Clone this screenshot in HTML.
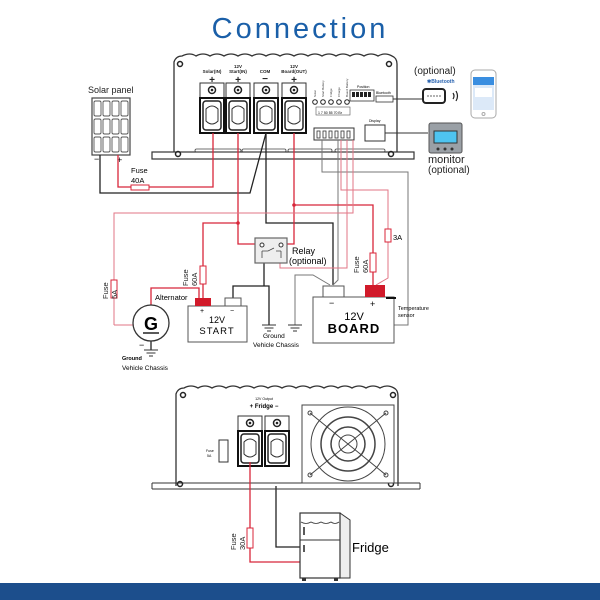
<!DOCTYPE html>
<html><head><meta charset="utf-8"><style>
body{margin:0;background:#fff}
svg{display:block}
text{font-family:"Liberation Sans",Arial,sans-serif}
</style></head><body>
<svg width="600" height="600" viewBox="0 0 600 600" xmlns="http://www.w3.org/2000/svg">
<defs>
<g id="term">
<rect x="-12" y="0" width="24" height="15" fill="#fff" stroke="#333" stroke-width="1"/>
<circle cx="0" cy="7" r="3.5" fill="#fff" stroke="#222" stroke-width="1.5"/>
<circle cx="0" cy="7" r="1.3" fill="#222"/>
<rect x="-12" y="15" width="24" height="35" fill="#fff" stroke="#111" stroke-width="2"/>
<rect x="-9" y="18" width="18" height="29" rx="3" fill="#fff" stroke="#222" stroke-width="1.5"/>
<path d="M-6,26 Q0,20 6,26 L6,38 Q0,44 -6,38 Z" fill="none" stroke="#333" stroke-width="1"/>
</g>
<g id="gnd"><line x1="-7" y1="0" x2="7" y2="0" stroke="#333"/><line x1="-4.5" y1="3" x2="4.5" y2="3" stroke="#333"/><line x1="-2" y1="6" x2="2" y2="6" stroke="#333"/></g>
</defs>
<text x="300" y="38" font-size="29" fill="#1a5fa8" text-anchor="middle" letter-spacing="3">Connection</text>

<!-- top device -->
<path d="M174,155 L174,62 Q176,56 182,56 Q190,52 196,56 Q203,52 210,56 Q217,52 224,56 Q231,52 238,56 Q245,52 252,56 Q259,52 266,56 Q273,52 280,56 Q287,52 294,56 Q301,52 308,56 Q315,52 322,56 Q329,52 336,56 Q343,52 350,56 Q357,52 364,56 Q371,52 378,56 Q385,52 392,56 Q397,58 397,64 L397,155" fill="#fff" stroke="#333" stroke-width="1.3"/>
<rect x="152" y="152" width="262" height="7" fill="#fff" stroke="#333" stroke-width="1.2"/>
<circle cx="180" cy="64" r="2.5" fill="none" stroke="#222" stroke-width="1.5"/>
<circle cx="389" cy="64" r="2.5" fill="none" stroke="#222" stroke-width="1.5"/>
<circle cx="178" cy="154" r="2.5" fill="none" stroke="#222" stroke-width="1.5"/>
<circle cx="391" cy="154" r="2.5" fill="none" stroke="#222" stroke-width="1.5"/>
<rect x="195" y="149" width="46" height="3" rx="1.5" fill="none" stroke="#444" stroke-width="0.8"/>
<rect x="242" y="149" width="44" height="3" rx="1.5" fill="none" stroke="#444" stroke-width="0.8"/>
<rect x="288" y="149" width="44" height="3" rx="1.5" fill="none" stroke="#444" stroke-width="0.8"/>
<rect x="335" y="149" width="50" height="3" rx="1.5" fill="none" stroke="#444" stroke-width="0.8"/>
<g font-size="4.5" font-weight="bold" text-anchor="middle" fill="#222">
<text x="212" y="73">Solar(IN)</text>
<text x="238" y="68">12V</text><text x="238" y="73">Start(IN)</text>
<text x="265" y="73">COM</text>
<text x="294" y="68">12V</text><text x="294" y="73">Board(OUT)</text>
</g>
<g font-size="10" font-weight="bold" text-anchor="middle" fill="#222">
<text x="212" y="83">+</text><text x="238" y="83">+</text><text x="265" y="82">−</text><text x="294" y="83">+</text>
</g>
<use href="#term" x="212" y="83"/><use href="#term" x="238" y="83"/><use href="#term" x="266" y="83"/><use href="#term" x="294" y="83"/>
<g fill="#fff" stroke="#222" stroke-width="1">
<circle cx="315" cy="102" r="2.3"/><circle cx="323" cy="102" r="2.3"/><circle cx="331" cy="102" r="2.3"/><circle cx="339" cy="102" r="2.3"/><circle cx="347" cy="102" r="2.3"/>
</g>
<g font-size="3" fill="#333"><text transform="translate(316,97) rotate(-90)">Solar</text><text transform="translate(324,97) rotate(-90)">Start Battery</text><text transform="translate(332,97) rotate(-90)">Fridge</text><text transform="translate(340,97) rotate(-90)">Charge</text><text transform="translate(348,97) rotate(-90)">Board Battery</text></g>
<rect x="316" y="107" width="34" height="8" fill="#fff" stroke="#555" stroke-width="0.6"/>
<text x="318" y="114" font-size="3.5">1  7  50  55 70 Br</text>
<text x="357" y="88" font-size="3.5">Position</text>
<rect x="350" y="90" width="24" height="11" fill="#fff" stroke="#333" stroke-width="0.8"/>
<g fill="#222"><rect x="352" y="92" width="3" height="5"/><rect x="356" y="92" width="3" height="5"/><rect x="360" y="92" width="3" height="5"/><rect x="364" y="92" width="3" height="5"/><rect x="368" y="92" width="3" height="5"/></g>
<text x="376" y="94" font-size="3.5">Bluetooth</text>
<rect x="376" y="96" width="17" height="6" fill="#fff" stroke="#333" stroke-width="0.8"/>
<rect x="314" y="128" width="40" height="12" fill="#fff" stroke="#333" stroke-width="1"/>
<g fill="#fff" stroke="#333" stroke-width="0.8"><rect x="317" y="131" width="3" height="7"/><rect x="323" y="131" width="3" height="7"/><rect x="329" y="131" width="3" height="7"/><rect x="335" y="131" width="3" height="7"/><rect x="341" y="131" width="3" height="7"/><rect x="347" y="131" width="3" height="7"/></g>
<text x="369" y="122" font-size="3.5">Display</text>
<rect x="365" y="125" width="20" height="16" fill="#fff" stroke="#333" stroke-width="1"/>
<line x1="385" y1="133" x2="428" y2="133" stroke="#333" stroke-width="1"/>
<line x1="393" y1="99" x2="422" y2="99" stroke="#333" stroke-width="1"/>

<!-- bluetooth / phone / monitor -->
<text x="414" y="74" font-size="10" fill="#222">(optional)</text>
<text x="427" y="83" font-size="5" font-weight="bold" fill="#2a64b0">✱Bluetooth</text>
<rect x="423" y="89" width="22" height="14" rx="3" fill="#fff" stroke="#222" stroke-width="2"/>
<line x1="427" y1="96" x2="441" y2="96" stroke="#333" stroke-width="0.8" stroke-dasharray="2,1"/>
<path d="M453,93 q2,3 0,6 M456,91 q3,5 0,10" fill="none" stroke="#222" stroke-width="1.2"/>
<rect x="471" y="70" width="25" height="48" rx="4" fill="#fff" stroke="#aaa" stroke-width="1"/>
<rect x="473" y="77" width="21" height="33" fill="#dce9f8"/>
<rect x="473" y="77" width="21" height="8" fill="#3a8ee0"/>
<rect x="475" y="88" width="17" height="9" fill="#fff"/>
<circle cx="483.5" cy="114" r="1.5" fill="none" stroke="#aaa"/>
<rect x="429" y="123" width="33" height="30" rx="2" fill="#9aa0a6" stroke="#555" stroke-width="1"/>
<rect x="434" y="131" width="23" height="12" fill="#4ec4f0" stroke="#333" stroke-width="1"/>
<g fill="#333"><circle cx="438" cy="149" r="1.5"/><circle cx="445" cy="149" r="1.5"/><circle cx="452" cy="149" r="1.5"/></g>
<text x="428" y="163" font-size="11" fill="#222">monitor</text>
<text x="428" y="173" font-size="10" fill="#222">(optional)</text>

<!-- solar panel -->
<text x="88" y="93" font-size="9" fill="#222">Solar  panel</text>
<rect x="92" y="98" width="38" height="57" fill="#fff" stroke="#444" stroke-width="1.2"/>
<g fill="#fff" stroke="#555" stroke-width="0.9">
<rect x="94" y="101" width="7" height="15" rx="1.5"/><rect x="103" y="101" width="7" height="15" rx="1.5"/><rect x="112" y="101" width="7" height="15" rx="1.5"/><rect x="121" y="101" width="7" height="15" rx="1.5"/>
<rect x="94" y="119" width="7" height="15" rx="1.5"/><rect x="103" y="119" width="7" height="15" rx="1.5"/><rect x="112" y="119" width="7" height="15" rx="1.5"/><rect x="121" y="119" width="7" height="15" rx="1.5"/>
<rect x="94" y="137" width="7" height="15" rx="1.5"/><rect x="103" y="137" width="7" height="15" rx="1.5"/><rect x="112" y="137" width="7" height="15" rx="1.5"/><rect x="121" y="137" width="7" height="15" rx="1.5"/>
</g>
<text x="94" y="162" font-size="9">−</text><text x="117" y="163" font-size="9">+</text>
<text x="131" y="173" font-size="7.5">Fuse</text><text x="131" y="183" font-size="7.5">40A</text>

<!-- wires black -->
<g fill="none" stroke="#222" stroke-width="1.3">
<polyline points="100,155 100,193 250,193 266,133"/>
<polyline points="266,133 266,223 333,223 333,285"/>
<polyline points="151,341 151,350"/>
<polyline points="233,298 233,286 269,286 269,325"/>
<polyline points="264,263 264,286"/>
<polyline points="276,462 276,547 300,547"/>
</g>
<!-- grey wires -->
<g fill="none" stroke="#777" stroke-width="1">
<polyline points="322,140 322,172 408,172 408,325 393,325"/>
<polyline points="338,140 338,280 333,285"/>
<polyline points="295,325 295,275 313,275 330,285"/>
</g>
<!-- red wires -->
<g fill="none" stroke="#d8263a" stroke-width="1.3">
<polyline points="118,155 118,187 213,187 213,133"/>
<polyline points="238,133 238,244 262,244"/>
<polyline points="238,223 203,223 203,298"/>
<polyline points="294,133 294,244 283,244"/>
<polyline points="294,205 373,205 373,285"/>
<polyline points="151,305 151,288 199,288 199,298"/>
</g>
<g fill="none" stroke="#e27585" stroke-width="1">
<polyline points="114,325 133,325"/>
<polyline points="114,325 114,213 353,213 353,140"/>
<polyline points="341,140 341,190 388,190 388,278 376,285"/>
<polyline points="347,140 347,268 280,268 280,263"/>
</g>
<circle cx="238" cy="223" r="1.8" fill="#d8263a"/><circle cx="294" cy="205" r="1.8" fill="#d8263a"/>
<!-- fuses -->
<g fill="#fff" stroke="#d8263a" stroke-width="1">
<rect x="131" y="185" width="18" height="5"/>
<rect x="111" y="280" width="6" height="18"/>
<rect x="200" y="266" width="6" height="18"/>
<rect x="370" y="253" width="6" height="19"/>
<rect x="385" y="229" width="6" height="13"/>
</g>
<g font-size="7.5" fill="#222">
<text transform="translate(108,299) rotate(-90)">Fuse</text><text transform="translate(117,299) rotate(-90)">5A</text>
<text transform="translate(188,286) rotate(-90)">Fuse</text><text transform="translate(197,286) rotate(-90)">60A</text>
<text transform="translate(359,273) rotate(-90)">Fuse</text><text transform="translate(368,273) rotate(-90)">60A</text>
<text transform="translate(236,550) rotate(-90)">Fuse</text><text transform="translate(245,550) rotate(-90)">30A</text>
</g>
<text x="393" y="240" font-size="7.5">3A</text>

<!-- relay -->
<rect x="255" y="238" width="32" height="25" fill="#eee" stroke="#666" stroke-width="1.2"/>
<circle cx="262" cy="245" r="2" fill="#fff" stroke="#333"/><circle cx="281" cy="245" r="2" fill="#fff" stroke="#333"/>
<path d="M262,251 L268,251 L274,248 M276,251 L281,251 M262,251 L262,258 M281,251 L281,258" fill="none" stroke="#444" stroke-width="0.8"/>
<text x="292" y="254" font-size="9">Relay</text><text x="289" y="264" font-size="9">(optional)</text>

<!-- grounds -->
<use href="#gnd" x="269" y="325"/><use href="#gnd" x="295" y="325"/><use href="#gnd" x="151" y="350"/>
<text x="263" y="338" font-size="6.5">Ground</text><text x="253" y="347" font-size="6.5">Vehicle  Chassis</text>
<text x="122" y="360" font-size="5.5" font-weight="bold">Ground</text><text x="122" y="370" font-size="6.5">Vehicle Chassis</text>
<text x="139" y="348" font-size="9">−</text>

<!-- generator -->
<circle cx="151" cy="323" r="18" fill="#fff" stroke="#333" stroke-width="1.3"/>
<text x="151" y="330" font-size="18" font-weight="bold" text-anchor="middle">G</text>
<line x1="143" y1="333" x2="159" y2="333" stroke="#222" stroke-width="1.5"/>
<text x="155" y="300" font-size="7.5">Alternator</text>

<!-- start battery -->
<rect x="188" y="306" width="59" height="36" fill="#fff" stroke="#555" stroke-width="1"/>
<rect x="195" y="298" width="16" height="8" fill="#d11a2a"/>
<rect x="225" y="298" width="16" height="8" fill="#fff" stroke="#555"/>
<text x="200" y="313" font-size="7">+</text><text x="230" y="313" font-size="7">−</text>
<text x="217" y="323" font-size="9" text-anchor="middle">12V</text>
<text x="217" y="334" font-size="9.5" text-anchor="middle" letter-spacing="1">START</text>

<!-- board battery -->
<rect x="313" y="297" width="81" height="46" fill="#fff" stroke="#555" stroke-width="1"/>
<rect x="323" y="286" width="21" height="11" fill="#fff" stroke="#555"/>
<rect x="365" y="285" width="20" height="12" fill="#d11a2a"/>
<line x1="386" y1="298" x2="396" y2="298" stroke="#111" stroke-width="2"/>
<text x="329" y="306" font-size="9">−</text><text x="370" y="307" font-size="9">+</text>
<text x="354" y="320" font-size="11" text-anchor="middle">12V</text>
<text x="354" y="333" font-size="13" text-anchor="middle" font-weight="bold" letter-spacing="1">BOARD</text>
<text x="398" y="310" font-size="5.5">Temperature</text><text x="398" y="317" font-size="5.5">sensor</text>

<!-- bottom device -->
<path d="M176,486 L176,394 Q178,388 184,388 Q191,384 198,388 Q205,384 212,388 Q219,384 226,388 Q233,384 240,388 Q247,384 254,388 Q261,384 268,388 Q275,384 282,388 Q289,384 296,388 Q303,384 310,388 Q317,384 324,388 Q331,384 338,388 Q345,384 352,388 Q359,384 366,388 Q373,384 380,388 Q387,384 394,388 Q398,390 398,396 L398,486" fill="#fff" stroke="#333" stroke-width="1.3"/>
<line x1="152" y1="483" x2="420" y2="483" stroke="#333"/>
<line x1="152" y1="489" x2="420" y2="489" stroke="#333"/>
<line x1="152" y1="483" x2="152" y2="489" stroke="#333"/><line x1="420" y1="483" x2="420" y2="489" stroke="#333"/>
<circle cx="183" cy="395" r="2.5" fill="none" stroke="#222" stroke-width="1.5"/><circle cx="393" cy="395" r="2.5" fill="none" stroke="#222" stroke-width="1.5"/>
<circle cx="180" cy="484" r="2.5" fill="none" stroke="#222" stroke-width="1.5"/><circle cx="391" cy="484" r="2.5" fill="none" stroke="#222" stroke-width="1.5"/>
<text x="264" y="400" font-size="3.5" text-anchor="middle">12V Output</text>
<text x="264" y="408" font-size="6" text-anchor="middle" font-weight="bold">+  Fridge  −</text>
<use href="#term" x="250" y="416"/>
<use href="#term" x="277" y="416"/>
<rect x="219" y="440" width="9" height="22" fill="#fff" stroke="#333"/>
<text x="206" y="452" font-size="3.5">Fuse</text><text x="207" y="457" font-size="3.5">5A</text>
<rect x="302" y="405" width="92" height="78" fill="#fff" stroke="#444" stroke-width="1"/>
<circle cx="348" cy="444" r="37" fill="none" stroke="#444"/>
<circle cx="348" cy="444" r="27" fill="none" stroke="#444" stroke-width="1.5"/>
<circle cx="348" cy="444" r="17" fill="none" stroke="#444" stroke-width="1.5"/>
<circle cx="348" cy="444" r="9" fill="none" stroke="#444"/>
<line x1="310" y1="413" x2="386" y2="475" stroke="#444"/><line x1="386" y1="413" x2="310" y2="475" stroke="#444"/>
<g fill="none" stroke="#444"><circle cx="310" cy="413" r="2"/><circle cx="386" cy="413" r="2"/><circle cx="310" cy="475" r="2"/><circle cx="386" cy="475" r="2"/></g>
<polyline points="250,462 250,562 300,562" fill="none" stroke="#d8263a" stroke-width="1.3"/>
<rect x="247" y="528" width="6" height="20" fill="#fff" stroke="#d8263a"/>

<!-- fridge -->
<path d="M340,513 L350,520 L350,578 L340,578" fill="#eee" stroke="#333"/>
<rect x="300" y="513" width="40" height="65" fill="#fff" stroke="#333" stroke-width="1.2"/>
<path d="M301,522 q5,3 10,0 q5,3 10,0 q5,3 10,0 q4,3 8,0" fill="none" stroke="#333" stroke-width="0.8"/>
<line x1="300" y1="540" x2="340" y2="540" stroke="#333"/>
<line x1="304" y1="527" x2="304" y2="535" stroke="#222" stroke-width="1.5"/><line x1="304" y1="545" x2="304" y2="552" stroke="#222" stroke-width="1.5"/>
<rect x="302" y="578" width="4" height="3" fill="#333"/><rect x="334" y="578" width="4" height="3" fill="#333"/>
<text x="352" y="552" font-size="13">Fridge</text>

<rect x="0" y="583" width="600" height="17" fill="#1c4e8c"/>
</svg>
</body></html>
